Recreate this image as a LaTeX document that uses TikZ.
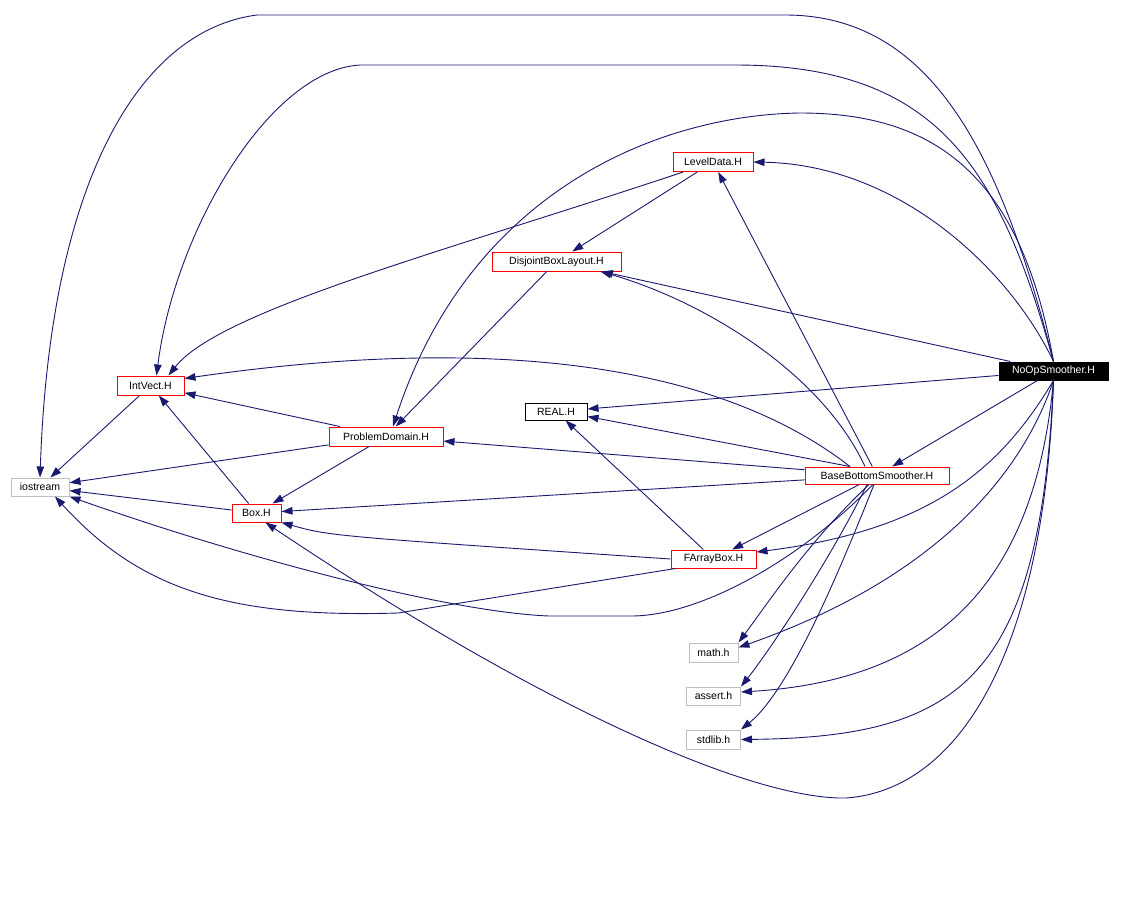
\documentclass[tikz,border=0pt]{standalone}
\usepackage{fontspec}
\setmainfont{Liberation Sans}
\usepackage{xcolor}
\usepackage{tikz}
\usetikzlibrary{positioning,arrows.meta}
\definecolor{depblue}{HTML}{191970}
\definecolor{sysgray}{HTML}{BFBFBF}

\begin{document}
\begin{tikzpicture}[x=1pt, y=-1pt, font=\fontsize{10.5}{12}\selectfont]
\tikzstyle{file}=[draw, line width=1pt, inner sep=0pt, minimum height=18pt]
\tikzstyle{hdr}=[file, draw=red]
\tikzstyle{sys}=[file, draw=sysgray]
\tikzstyle{dep}=[draw=depblue, line width=0.9pt, -{Triangle[length=11pt,width=7.5pt]}]
\useasboundingbox (0,0) rectangle (1122,921);
\node[file, fill=black, text=white, minimum width=109pt] (noop) at (1053.5,371) {NoOpSmoother.H};
\node[hdr, minimum width=80pt, minimum height=19pt] (leveldata) at (713,162) {LevelData.H};
\node[hdr, minimum width=129pt, minimum height=19pt] (layout) at (556.5,261.5) {DisjointBoxLayout.H};
\node[hdr, minimum width=67pt, minimum height=19pt] (intvect) at (150.5,385.5) {IntVect.H};
\node[sys, minimum width=58pt] (iostream) at (40,487) {iostream};
\node[hdr, minimum width=49pt] (box) at (256.5,513) {Box.H};
\node[hdr, minimum width=114pt, minimum height=19pt] (domain) at (386,436.5) {ProblemDomain.H};
\node[file, minimum width=62pt, minimum height=17pt] (real) at (556,411.5) {REAL.H};
\node[hdr, minimum width=144pt, minimum height=17pt] (smoother) at (877,475.5) {BaseBottomSmoother.H};
\node[hdr, minimum width=85pt] (farray) at (713.5,559) {FArrayBox.H};
\node[sys, minimum width=49pt, minimum height=19pt] (math) at (713.5,652.5) {math.h};
\node[sys, minimum width=54pt, below=24pt of math] (assert) {assert.h};
\node[sys, minimum width=54pt, minimum height=19pt, below=24pt of assert] (stdlib) {stdlib.h};

\draw[dep] (noop.north) .. controls (1000,150) and (930,15) .. (785,15) -- (257,15)
  .. controls (140,30) and (50,180) .. (iostream.north);
\draw[dep] (noop.north) .. controls (1000,170) and (940,65) .. (735,65) -- (360,65)
  .. controls (270,70) and (175,230) .. ([xshift=6pt]intvect.north);
\draw[dep] (noop.north) .. controls (1020,170) and (930,113) .. (800,113)
  .. controls (660,115) and (470,190) .. ([xshift=7pt]domain.north);
\draw[dep] (noop.north) .. controls (1010,270) and (900,165) .. (leveldata.east);
\draw[dep] (noop) -- (layout);
\draw[dep] (noop) -- (real);
\draw[dep] (noop) -- (smoother);
\draw[dep] (noop.south) .. controls (1000,470) and (930,530) .. ([yshift=7pt]farray.east);
\draw[dep] (noop.south) .. controls (1020,480) and (930,580) .. ([yshift=5pt]math.east);
\draw[dep] (noop.south) .. controls (1035,580) and (940,680) .. ([yshift=4pt]assert.east);
\draw[dep] (noop.south) .. controls (1040,680) and (960,737) .. (stdlib.east);
\draw[dep] (noop.south) .. controls (1045,650) and (960,790) .. (846,798)
  .. controls (760,800) and (560,720) .. ([xshift=9pt]box.south);

\draw[dep] (smoother) -- (leveldata);
\draw[dep] ([xshift=-12pt]smoother.north) .. controls (820,370) and (700,300) .. ([xshift=44pt]layout.south);
\draw[dep] ([xshift=-27pt]smoother.north) .. controls (700,350) and (450,340) .. ([yshift=7pt]intvect.east);
\draw[dep] ([xshift=-27pt]smoother.north) -- ([yshift=-5pt]real.east);
\draw[dep] (smoother) -- (domain);
\draw[dep] (smoother) -- (box);
\draw[dep] (smoother) -- (farray);
\draw[dep] ([xshift=-8pt]smoother.south) .. controls (810,540) and (770,600) .. (math.north east);
\draw[dep] ([xshift=-10pt]smoother.south) .. controls (830,560) and (770,650) .. (assert.north east);
\draw[dep] ([xshift=-3pt]smoother.south) .. controls (840,570) and (790,690) .. (stdlib.north east);
\draw[dep] ([xshift=-4pt]smoother.south) .. controls (800,560) and (700,616) .. (631,616) -- (549,616)
  .. controls (450,612) and (250,560) .. (iostream.south east);

\draw[dep] (farray) -- (real);
\draw[dep] (farray.west) .. controls (330,536) .. (box.south east);
\draw[dep] ([xshift=5pt]farray.south west) -- (398,613)
  .. controls (230,618) and (140,590) .. ([xshift=15pt]iostream.south);

\draw[dep] (leveldata) -- (layout);
\draw[dep] (leveldata) .. controls (450,250) and (220,310) .. ([xshift=18pt]intvect.north);
\draw[dep] (layout) -- (domain);
\draw[dep] (domain) -- (intvect);
\draw[dep] (domain) -- (iostream);
\draw[dep] (domain) -- (box);
\draw[dep] (box) -- (intvect);
\draw[dep] (box) -- (iostream);
\draw[dep] (intvect) -- (iostream);
\end{tikzpicture}
\end{document}
